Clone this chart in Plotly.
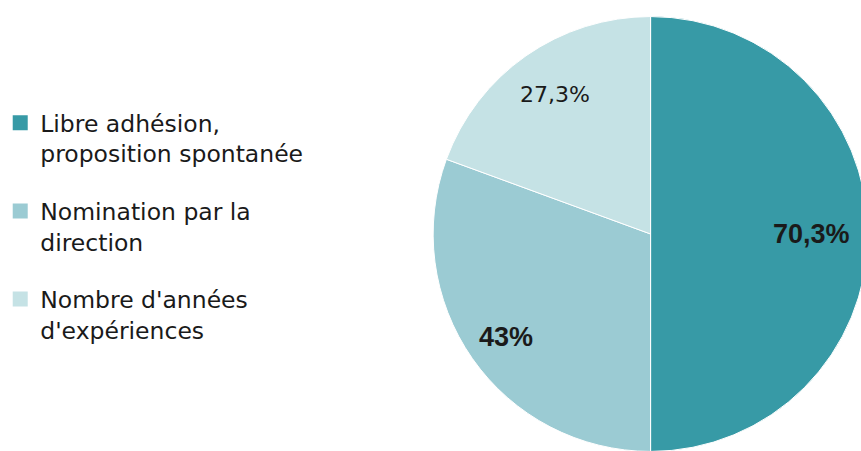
import math
import plotly.graph_objects as go

labels = [
    "Libre adhésion,<br>proposition spontanée",
    "Nomination par la<br>direction",
    "Nombre d'années<br>d'expériences",
]
values = [70.3, 43, 27.3]
value_text = ["<b>70,3%</b>", "<b>43%</b>", "27,3%"]
colors = ["#379aa6", "#9bcbd3", "#c5e2e5"]

# figure slightly larger than the window: the pie runs off the right/bottom edge
W, H = 870, 460
# pie geometry in figure pixels
CX, CY, R = 647, 234, 221
# how far out (fraction of radius) each value label sits
label_radius = [0.74, 0.81, 0.77]

fig = go.Figure()
fig.add_trace(go.Pie(
    labels=labels,
    values=values,
    textinfo="none",
    sort=False,
    direction="clockwise",
    rotation=0,
    marker=dict(colors=colors, line=dict(color="#ffffff", width=1)),
    domain=dict(x=[(CX - R) / W, (CX + R) / W], y=[1 - (CY + R) / H, 1 - (CY - R) / H]),
    showlegend=False,
    hoverinfo="label+value",
))

# legend entries (square swatches)
for lab, col in zip(labels, colors):
    fig.add_trace(go.Scatter(
        x=[None], y=[None], mode="markers",
        marker=dict(symbol="square", size=15, color=col),
        name=lab, legendgroup=lab, showlegend=True, hoverinfo="skip",
    ))

# value labels placed along each slice's mid angle
total = sum(values)
cum = 0
fonts = [
    dict(family="Liberation Sans, Arial", size=27, color="#1a1a1a"),
    dict(family="Liberation Sans, Arial", size=27, color="#1a1a1a"),
    dict(family="DejaVu Sans", size=22, color="#1a1a1a"),
]
for v, t, f, k in zip(values, value_text, fonts, label_radius):
    mid = (cum + v / 2) / total * 2 * math.pi
    cum += v
    rr = R * k
    fig.add_annotation(
        x=(CX + rr * math.sin(mid)) / W,
        y=1 - (CY - rr * math.cos(mid)) / H,
        xref="paper", yref="paper",
        text=t, showarrow=False, font=f,
        xanchor="center", yanchor="middle",
    )

fig.update_layout(
    width=W,
    height=H,
    margin=dict(l=0, r=0, t=0, b=0),
    paper_bgcolor="white",
    plot_bgcolor="white",
    xaxis=dict(visible=False),
    yaxis=dict(visible=False),
    showlegend=True,
    legend=dict(
        x=-14 / W,
        y=1 - 101 / H,
        xanchor="left",
        yanchor="top",
        valign="top",
        tracegroupgap=24,
        font=dict(family="DejaVu Sans", size=23.5, color="#1a1a1a"),
        bgcolor="rgba(0,0,0,0)",
    ),
)

fig.write_html(
    "out.html",
    config={"displayModeBar": False},
    post_script="document.body.style.margin='0';document.body.style.overflow='hidden';",
)
